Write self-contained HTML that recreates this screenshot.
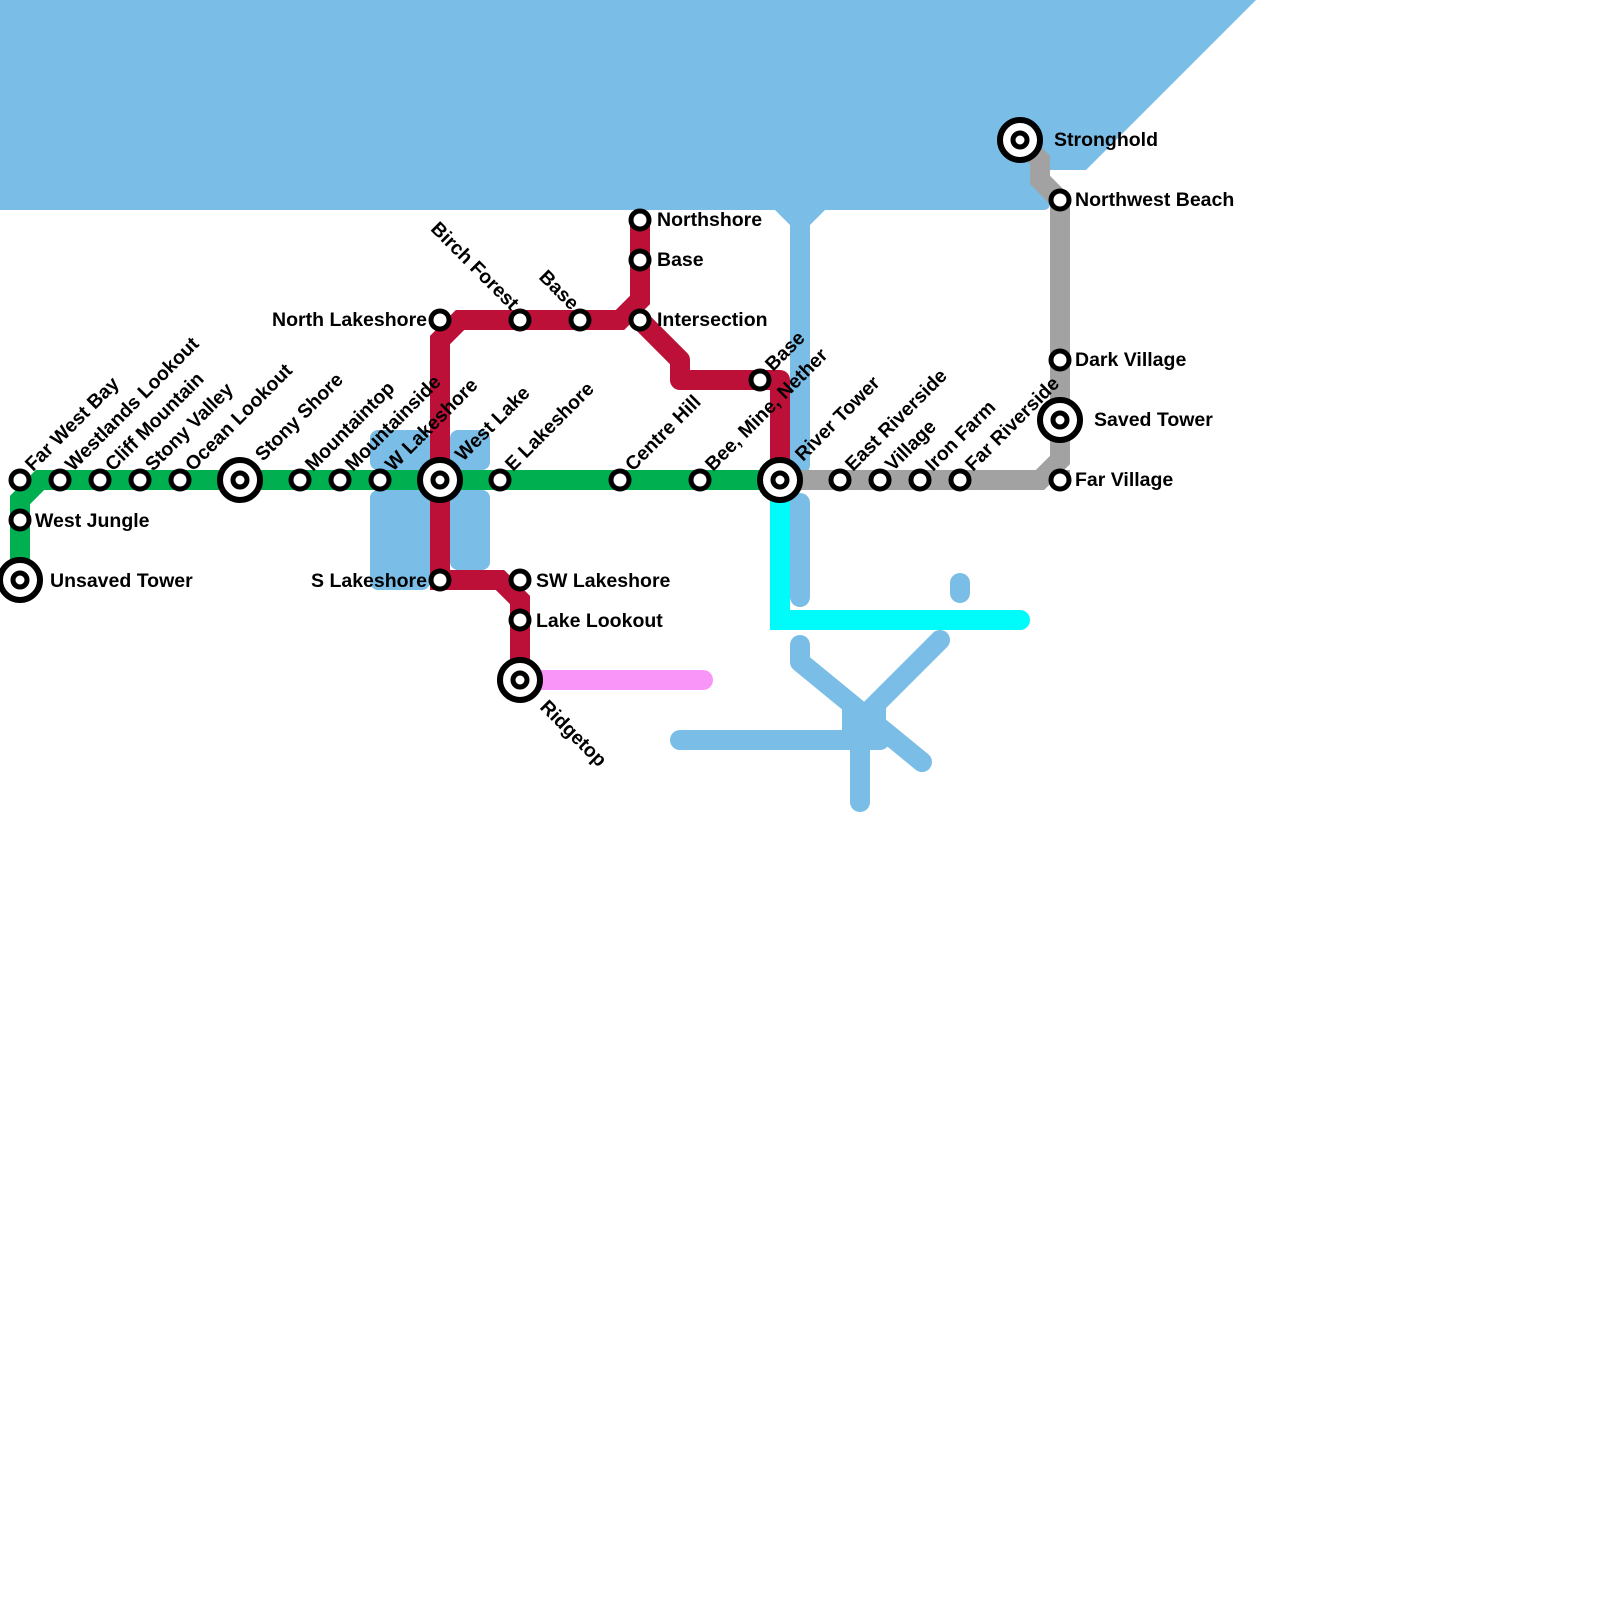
<!DOCTYPE html>
<html><head><meta charset="utf-8"><style>
html,body{margin:0;padding:0;background:#fff;}
svg{display:block;}
text{font-family:"Liberation Sans",Arial,sans-serif;font-weight:bold;font-size:19.5px;fill:#000;}
</style></head><body>
<svg width="1600" height="1600" viewBox="0 0 1600 1600" xmlns="http://www.w3.org/2000/svg">
<path d="M0,0 L1256,0 L1086,170 L1050,170 L1050,203 Q1050,210 1043,210 L825,210 L810,225 L790,225 L775,210 L0,210 Z" fill="#7abde7"/>
<g stroke="#7abde7" stroke-width="20" stroke-linecap="round" fill="none" stroke-linejoin="round">
<line x1="800" y1="215" x2="800" y2="465"/>
<line x1="800" y1="503" x2="800" y2="597"/>
<line x1="960" y1="583" x2="960" y2="593"/>
<polyline points="800,645 800,662 922,762"/>
<line x1="940" y1="640" x2="860" y2="720"/>
<line x1="680" y1="740" x2="880" y2="740"/>
<line x1="860" y1="730" x2="860" y2="802"/>
</g>
<rect x="842" y="708" width="44" height="40" fill="#7abde7"/>
<rect x="370" y="430" width="60" height="40" rx="8" fill="#7abde7"/>
<rect x="370" y="490" width="60" height="100" rx="8" fill="#7abde7"/>
<rect x="450" y="430" width="40" height="40" rx="8" fill="#7abde7"/>
<rect x="450" y="490" width="40" height="80" rx="8" fill="#7abde7"/>
<g fill="none" stroke-width="20" stroke-linejoin="round">
<path d="M520,680 L703,680" stroke="#f995f9" stroke-linecap="round"/>
<path d="M780,480 L780,620 L1020,620" stroke="#00fbfb" stroke-linejoin="miter"/>
<path d="M1020,620 L1020,620" stroke="#00fbfb" stroke-linecap="round"/>
<path d="M780,480 L1040,480 L1060,460 L1060,200 L1040,180 L1040,160 L1020,140" stroke="#a2a2a2" stroke-linejoin="miter"/>
<path d="M1060,470 L1060,480" stroke="#a2a2a2"/>
<path d="M20,580 L20,500 L40,480 L780,480" stroke="#00b050" stroke-linejoin="miter"/>
<path d="M440,480 L440,580 L500,580 L520,600 L520,680" stroke="#bd1038" stroke-linejoin="miter"/>
<path d="M440,480 L440,340 L460,320 L620,320 L640,300 L640,220" stroke="#bd1038" stroke-linejoin="miter"/>
<path d="M640,320 L680,360 L680,380 L780,380 L780,480" stroke="#bd1038"/>
</g>
<g fill="#fff" stroke="#000" stroke-width="5">
<circle cx="20" cy="480" r="9"/><circle cx="60" cy="480" r="9"/><circle cx="100" cy="480" r="9"/>
<circle cx="140" cy="480" r="9"/><circle cx="180" cy="480" r="9"/><circle cx="300" cy="480" r="9"/>
<circle cx="340" cy="480" r="9"/><circle cx="380" cy="480" r="9"/><circle cx="500" cy="480" r="9"/>
<circle cx="620" cy="480" r="9"/><circle cx="700" cy="480" r="9"/><circle cx="840" cy="480" r="9"/>
<circle cx="880" cy="480" r="9"/><circle cx="920" cy="480" r="9"/><circle cx="960" cy="480" r="9"/>
<circle cx="20" cy="520" r="9"/>
<circle cx="440" cy="320" r="9"/><circle cx="520" cy="320" r="9"/><circle cx="580" cy="320" r="9"/>
<circle cx="640" cy="320" r="9"/><circle cx="640" cy="260" r="9"/><circle cx="640" cy="220" r="9"/>
<circle cx="760" cy="380" r="9"/>
<circle cx="440" cy="580" r="9"/><circle cx="520" cy="580" r="9"/><circle cx="520" cy="620" r="9"/>
<circle cx="1060" cy="200" r="9"/><circle cx="1060" cy="360" r="9"/><circle cx="1060" cy="480" r="9"/>
</g>
<g fill="#fff" stroke="#000">
<g stroke-width="6"><circle cx="20" cy="580" r="20"/><circle cx="240" cy="480" r="20"/><circle cx="440" cy="480" r="20"/><circle cx="780" cy="480" r="20"/><circle cx="520" cy="680" r="20"/><circle cx="1020" cy="140" r="20"/><circle cx="1060" cy="420" r="20"/></g>
<g stroke-width="5"><circle cx="20" cy="580" r="7"/><circle cx="240" cy="480" r="7"/><circle cx="440" cy="480" r="7"/><circle cx="780" cy="480" r="7"/><circle cx="520" cy="680" r="7"/><circle cx="1020" cy="140" r="7"/><circle cx="1060" cy="420" r="7"/></g>
</g>
<g>
<text transform="translate(33,472) rotate(-45)">Far West Bay</text>
<text transform="translate(73,472) rotate(-45)">Westlands Lookout</text>
<text transform="translate(113,472) rotate(-45)">Cliff Mountain</text>
<text transform="translate(153,472) rotate(-45)">Stony Valley</text>
<text transform="translate(193,472) rotate(-45)">Ocean Lookout</text>
<text transform="translate(263,462) rotate(-45)">Stony Shore</text>
<text transform="translate(313,472) rotate(-45)">Mountaintop</text>
<text transform="translate(353,472) rotate(-45)">Mountainside</text>
<text transform="translate(393,472) rotate(-45)">W Lakeshore</text>
<text transform="translate(463,462) rotate(-45)">West Lake</text>
<text transform="translate(513,472) rotate(-45)">E Lakeshore</text>
<text transform="translate(633,472) rotate(-45)">Centre Hill</text>
<text transform="translate(713,472) rotate(-45)">Bee, Mine, Nether</text>
<text transform="translate(803,462) rotate(-45)">River Tower</text>
<text transform="translate(853,472) rotate(-45)">East Riverside</text>
<text transform="translate(893,472) rotate(-45)">Village</text>
<text transform="translate(933,472) rotate(-45)">Iron Farm</text>
<text transform="translate(973,472) rotate(-45)">Far Riverside</text>
<text transform="translate(773,372) rotate(-45)">Base</text>
<text transform="translate(511,311) rotate(45)" text-anchor="end">Birch Forest</text>
<text transform="translate(571,311) rotate(45)" text-anchor="end">Base</text>
<text transform="translate(539,708) rotate(45)">Ridgetop</text>
</g>
<text x="35" y="527">West Jungle</text>
<text x="50" y="587">Unsaved Tower</text>
<text x="427" y="326" text-anchor="end">North Lakeshore</text>
<text x="427" y="587" text-anchor="end">S Lakeshore</text>
<text x="536" y="587">SW Lakeshore</text>
<text x="536" y="627">Lake Lookout</text>
<text x="657" y="226">Northshore</text>
<text x="657" y="266">Base</text>
<text x="657" y="326">Intersection</text>
<text x="1054" y="146">Stronghold</text>
<text x="1075" y="206">Northwest Beach</text>
<text x="1075" y="366">Dark Village</text>
<text x="1094" y="426">Saved Tower</text>
<text x="1075" y="486">Far Village</text>
</svg>
</body></html>
